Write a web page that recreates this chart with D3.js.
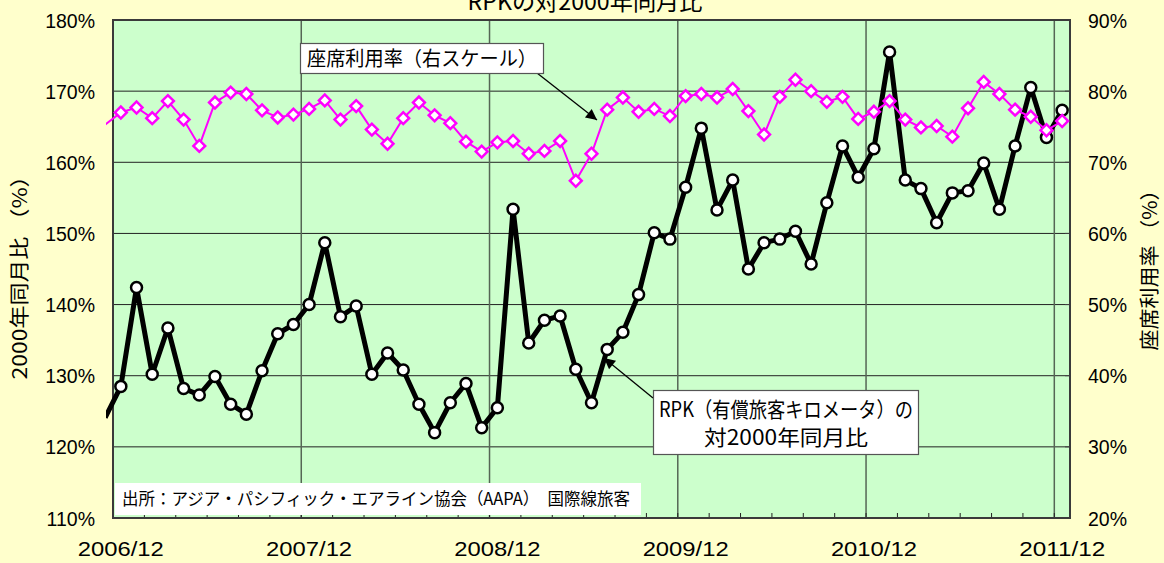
<!DOCTYPE html>
<html>
<head>
<meta charset="utf-8">
<script src="https://cdn.jsdelivr.net/npm/d3@7"></script>
<style>
  body { margin: 0; background: #ffffcc; }
  svg text { font-family: 'Noto Sans CJK JP', sans-serif; fill: #000; }
  .tick text { font-family: 'Liberation Sans', Arial, sans-serif; }
</style>
</head>
<body>
<div id="chart"></div>
<script>
// Chart size and plot box
const WIDTH = 1164;
const HEIGHT = 563;
const MARGIN = { left: 113, right: 94, top: 20, bottom: 45 };
const PLOT_RIGHT = WIDTH - MARGIN.right;
const PLOT_BOTTOM = HEIGHT - MARGIN.bottom;

// Months shown, plus one month before the axis (its line enters from the left edge)
const months = d3.timeMonth.range(new Date(2006, 10, 1), new Date(2012, 0, 1))
  .map(d3.timeFormat('%Y/%m'));

const xTickLabels = ['2006/12', '2007/12', '2008/12', '2009/12', '2010/12', '2011/12'];
const leftTicks = [110, 120, 130, 140, 150, 160, 170, 180];
const rightTicks = [20, 30, 40, 50, 60, 70, 80, 90];

// RPK compared with the same month of 2000 (%), left scale
const rpkRatio = [
  124.1,
  128.5, 142.4, 130.2, 136.7, 128.2, 127.3, 129.9, 126.0, 124.6, 130.7, 135.9, 137.2,
  140.0, 148.7, 138.3, 139.8, 130.2, 133.2, 130.8, 126.0, 122.0, 126.2, 128.9, 122.7,
  125.5, 153.4, 134.6, 137.8, 138.4, 130.9, 126.2, 133.7, 136.1, 141.4, 150.1, 149.2,
  156.5, 164.8, 153.3, 157.5, 145.0, 148.7, 149.2, 150.3, 145.7, 154.3, 162.3, 157.9,
  161.9, 175.5, 157.5, 156.3, 151.5, 155.7, 156.0, 159.9, 153.4, 162.3, 170.5, 163.5,
  167.3
];

// Seat load factor (%), right scale
const loadFactor = [
  75.3,
  77.0, 77.7, 76.2, 78.6, 76.0, 72.3, 78.4, 79.8, 79.6, 77.3, 76.3, 76.7,
  77.5, 78.7, 76.0, 77.9, 74.6, 72.6, 76.2, 78.4, 76.6, 75.5, 72.9, 71.5,
  72.8, 73.0, 71.2, 71.6, 73.0, 67.4, 71.2, 77.4, 79.1, 77.1, 77.5, 76.5,
  79.3, 79.6, 79.1, 80.3, 77.2, 73.9, 79.2, 81.6, 80.0, 78.5, 79.2, 76.1,
  77.1, 78.6, 76.0, 74.9, 75.1, 73.6, 77.6, 81.3, 79.6, 77.4, 76.4, 74.5,
  75.8
];

const TITLE = 'RPKの対2000年同月比';
const LEFT_TITLE = '2000年同月比 （%）';
const RIGHT_TITLE = '座席利用率 （%）';
const LF_LABEL = '座席利用率（右スケール）';
const RPK_LABEL = ['RPK（有償旅客キロメータ）の', '対2000年同月比'];
const SOURCE = '出所：アジア・パシフィック・エアライン協会（AAPA）　国際線旅客';

draw();

function draw () {
  const svg = d3.select('#chart')
    .append('svg')
    .attr('width', WIDTH)
    .attr('height', HEIGHT);

  svg.append('rect')
    .attr('width', WIDTH)
    .attr('height', HEIGHT)
    .attr('fill', '#ffffcc');

  // x: one band per month, first band (2006/11) sits left of the plot box
  const plotW = PLOT_RIGHT - MARGIN.left;
  const bw = plotW / (months.length - 1);
  const xScale = d3.scaleBand()
    .domain(months)
    .range([MARGIN.left - bw, PLOT_RIGHT]);
  const cx = m => xScale(m) + xScale.bandwidth() / 2;

  const yLeft = d3.scaleLinear().domain([110, 180]).range([PLOT_BOTTOM, MARGIN.top]);
  const yRight = d3.scaleLinear().domain([20, 90]).range([PLOT_BOTTOM, MARGIN.top]);

  // Plot area
  svg.append('rect')
    .attr('x', MARGIN.left)
    .attr('y', MARGIN.top)
    .attr('width', plotW)
    .attr('height', PLOT_BOTTOM - MARGIN.top)
    .attr('fill', '#ccffcc');

  // Grid
  svg.append('g')
    .selectAll('line')
    .data(leftTicks.slice(1, -1))
    .join('line')
    .attr('x1', MARGIN.left)
    .attr('x2', PLOT_RIGHT)
    .attr('y1', d => yLeft(d))
    .attr('y2', d => yLeft(d))
    .attr('stroke', '#222')
    .attr('stroke-width', 1);

  svg.append('g')
    .selectAll('line')
    .data(xTickLabels.slice(1))
    .join('line')
    .attr('x1', d => xScale(d))
    .attr('x2', d => xScale(d))
    .attr('y1', MARGIN.top)
    .attr('y2', PLOT_BOTTOM)
    .attr('stroke', '#556655')
    .attr('stroke-width', 1.5);

  // small inside ticks every two months on the bottom axis
  const minor = months.filter((m, i) => i > 1 && i % 2 === 1);
  svg.append('g')
    .selectAll('line')
    .data(minor)
    .join('line')
    .attr('x1', d => xScale(d))
    .attr('x2', d => xScale(d))
    .attr('y1', PLOT_BOTTOM)
    .attr('y2', PLOT_BOTTOM - 5)
    .attr('stroke', '#222');

  // inside ticks on right axis
  svg.append('g')
    .selectAll('line')
    .data(rightTicks)
    .join('line')
    .attr('x1', PLOT_RIGHT - 5)
    .attr('x2', PLOT_RIGHT)
    .attr('y1', d => yRight(d))
    .attr('y2', d => yRight(d))
    .attr('stroke', '#444');

  // Axes (labels only)
  const leftAxis = d3.axisLeft(yLeft)
    .tickValues(leftTicks)
    .tickFormat(d => d + '%')
    .tickSize(0)
    .tickPadding(18);
  svg.append('g')
    .attr('transform', `translate(${MARGIN.left}, 0)`)
    .call(leftAxis)
    .call(g => g.select('.domain').remove())
    .selectAll('text')
    .attr('font-size', 19.5)
    .attr('dy', '0.36em');

  const rightAxis = d3.axisRight(yRight)
    .tickValues(rightTicks)
    .tickFormat(d => d + '%')
    .tickSize(0)
    .tickPadding(18);
  svg.append('g')
    .attr('transform', `translate(${PLOT_RIGHT}, 0)`)
    .call(rightAxis)
    .call(g => g.select('.domain').remove())
    .selectAll('text')
    .attr('font-size', 19.5)
    .attr('dy', '0.36em');

  const xAxis = d3.axisBottom(xScale)
    .tickValues(xTickLabels)
    .tickSize(0);
  svg.append('g')
    .attr('transform', `translate(0, ${PLOT_BOTTOM})`)
    .call(xAxis)
    .call(g => g.select('.domain').remove())
    .selectAll('text')
    .attr('font-size', 21)
    .attr('y', 38)
    .attr('dy', 0)
    .attr('textLength', 86)
    .attr('lengthAdjust', 'spacingAndGlyphs');

  // Clip so the lead-in segment stops just left of the plot edge
  svg.append('clipPath')
    .attr('id', 'plot-clip')
    .append('rect')
    .attr('x', MARGIN.left - 7)
    .attr('y', 0)
    .attr('width', PLOT_RIGHT - MARGIN.left + 7)
    .attr('height', HEIGHT);

  // Source note box
  svg.append('rect')
    .attr('x', 115)
    .attr('y', 483)
    .attr('width', 526)
    .attr('height', 32)
    .attr('fill', '#fff');
  svg.append('text')
    .attr('x', 122)
    .attr('y', 505)
    .attr('font-size', 17)
    .attr('textLength', 508)
    .attr('lengthAdjust', 'spacingAndGlyphs')
    .text(SOURCE);

  // Plot border
  svg.append('rect')
    .attr('x', MARGIN.left)
    .attr('y', MARGIN.top)
    .attr('width', plotW)
    .attr('height', PLOT_BOTTOM - MARGIN.top)
    .attr('fill', 'none')
    .attr('stroke', '#3a3a3a')
    .attr('stroke-width', 2);

  const rpkData = months.map((m, i) => ({ m: m, v: rpkRatio[i] }));
  const lfData = months.map((m, i) => ({ m: m, v: loadFactor[i] }));

  // RPK series
  const rpkLine = d3.line()
    .x(d => cx(d.m))
    .y(d => yLeft(d.v));

  svg.append('path')
    .datum(rpkData)
    .attr('clip-path', 'url(#plot-clip)')
    .attr('d', rpkLine)
    .attr('fill', 'none')
    .attr('stroke', '#000')
    .attr('stroke-width', 5)
    .attr('stroke-linejoin', 'round');

  svg.append('g')
    .selectAll('circle')
    .data(rpkData.slice(1))
    .join('circle')
    .attr('cx', d => cx(d.m))
    .attr('cy', d => yLeft(d.v))
    .attr('r', 5.5)
    .attr('fill', '#fff')
    .attr('stroke', '#000')
    .attr('stroke-width', 2.5);

  // Load factor series
  const lfLine = d3.line()
    .x(d => cx(d.m))
    .y(d => yRight(d.v));

  svg.append('path')
    .datum(lfData)
    .attr('clip-path', 'url(#plot-clip)')
    .attr('d', lfLine)
    .attr('fill', 'none')
    .attr('stroke', '#ff00ff')
    .attr('stroke-width', 2);

  const diamond = d3.symbol().type(d3.symbolSquare).size(70);
  svg.append('g')
    .selectAll('path')
    .data(lfData.slice(1))
    .join('path')
    .attr('d', diamond)
    .attr('transform', d => `translate(${cx(d.m)}, ${yRight(d.v)}) rotate(45)`)
    .attr('fill', '#fff')
    .attr('stroke', '#ff00ff')
    .attr('stroke-width', 2.5);

  // Arrow head
  svg.append('defs')
    .append('marker')
    .attr('id', 'arrow')
    .attr('viewBox', '0 0 10 10')
    .attr('refX', 10)
    .attr('refY', 5)
    .attr('markerWidth', 14)
    .attr('markerHeight', 11)
    .attr('markerUnits', 'userSpaceOnUse')
    .attr('orient', 'auto')
    .append('path')
    .attr('d', 'M0,0L10,5L0,10Z')
    .attr('fill', '#000');

  // Load factor label
  svg.append('line')
    .attr('x1', 537).attr('y1', 73)
    .attr('x2', 597).attr('y2', 120)
    .attr('stroke', '#000')
    .attr('stroke-width', 1.3)
    .attr('marker-end', 'url(#arrow)');
  svg.append('rect')
    .attr('x', 300.5)
    .attr('y', 43.5)
    .attr('width', 243)
    .attr('height', 30)
    .attr('fill', '#fff')
    .attr('stroke', '#555')
    .attr('stroke-width', 1.2);
  svg.append('text')
    .attr('x', 307)
    .attr('y', 66)
    .attr('font-size', 20)
    .attr('textLength', 230)
    .attr('lengthAdjust', 'spacingAndGlyphs')
    .text(LF_LABEL);

  // RPK label
  svg.append('line')
    .attr('x1', 653).attr('y1', 398)
    .attr('x2', 604).attr('y2', 358)
    .attr('stroke', '#000')
    .attr('stroke-width', 1.3)
    .attr('marker-end', 'url(#arrow)');
  svg.append('rect')
    .attr('x', 653.5)
    .attr('y', 390.5)
    .attr('width', 265)
    .attr('height', 64)
    .attr('fill', '#fff')
    .attr('stroke', '#555')
    .attr('stroke-width', 1.2);
  svg.append('text')
    .attr('x', 786)
    .attr('y', 417)
    .attr('text-anchor', 'middle')
    .attr('font-size', 21)
    .attr('textLength', 254)
    .attr('lengthAdjust', 'spacingAndGlyphs')
    .text(RPK_LABEL[0]);
  svg.append('text')
    .attr('x', 786)
    .attr('y', 445)
    .attr('text-anchor', 'middle')
    .attr('font-size', 21)
    .attr('textLength', 164)
    .attr('lengthAdjust', 'spacingAndGlyphs')
    .text(RPK_LABEL[1]);

  // Titles
  svg.append('text')
    .attr('x', 585)
    .attr('y', 10)
    .attr('text-anchor', 'middle')
    .attr('font-size', 23)
    .attr('textLength', 235)
    .attr('lengthAdjust', 'spacingAndGlyphs')
    .text(TITLE);

  svg.append('text')
    .attr('transform', 'translate(27, 272) rotate(-90)')
    .attr('text-anchor', 'middle')
    .attr('font-size', 20)
    .attr('textLength', 215)
    .attr('lengthAdjust', 'spacingAndGlyphs')
    .text(LEFT_TITLE);

  svg.append('text')
    .attr('transform', 'translate(1157, 265) rotate(-90)')
    .attr('text-anchor', 'middle')
    .attr('font-size', 20)
    .attr('textLength', 171)
    .attr('lengthAdjust', 'spacingAndGlyphs')
    .text(RIGHT_TITLE);
}
</script>
</body>
</html>
